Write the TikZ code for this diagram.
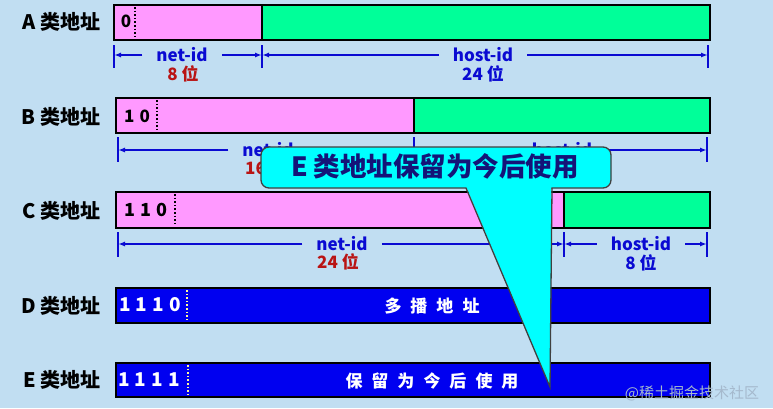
\documentclass[tikz,border=0pt]{standalone}
\usepackage{fontspec}
\setmainfont{Noto Sans CJK SC}
\usetikzlibrary{arrows.meta}
\definecolor{bgc}{RGB}{193,222,242}
\definecolor{pinkc}{RGB}{255,153,255}
\definecolor{greenc}{RGB}{0,255,153}
\definecolor{bluec}{RGB}{0,0,240}
\definecolor{arrc}{RGB}{10,10,210}
\definecolor{redc}{RGB}{185,20,20}
\definecolor{navyc}{RGB}{20,20,120}
\definecolor{cyanc}{RGB}{0,255,255}
\definecolor{wmc}{RGB}{165,185,205}
\newcommand{\fs}[1]{\fontsize{#1}{#1}\selectfont}
\begin{document}
\begin{tikzpicture}[x=1pt,y=-1pt,
  lab/.style={anchor=east, font=\bfseries\fs{20}},
  seg/.style={draw=black, line width=2.5pt},
  dotsep/.style={draw=black, dotted, line width=1.6pt},
  wdot/.style={draw=yellow!40!white, dotted, line width=1.6pt},
  dim/.style={draw=arrc, line width=1.8pt, -{Latex[length=7pt,width=5pt]}},
  tickm/.style={draw=arrc, line width=2.4pt},
  idtxt/.style={text=arrc, font=\bfseries\fs{17}, inner xsep=14pt, inner ysep=0pt},
  redtxt/.style={text=redc, font=\bfseries\fs{17}, inner sep=0pt},
  bluetxt/.style={text=arrc, font=\bfseries\fs{17}, inner sep=0pt},
  bitsb/.style={text=black, font=\bfseries\fs{#1}, inner sep=0pt},
  bitsw/.style={text=white, font=\bfseries\fs{#1}, inner sep=0pt},
  calltxt/.style={text=navyc, font=\bfseries\fs{26.5}, inner sep=0pt},
  callout/.style={fill=cyanc},
  callline/.style={draw=black!75, line width=1.3pt},
]
\fill[bgc] (0,0) rectangle (773,408);
\useasboundingbox (0,0) rectangle (773,408);

% labels
\node[lab] (la) at (104,22) {A 类地址};
\node[lab] (lb) at (104,117) {B 类地址};
\node[lab] (lc) at (104,211) {C 类地址};
\node[lab] (ld) at (104,306) {D 类地址};
\node[lab] (le) at (104,380) {E 类地址};

% Row A
\draw[seg, fill=pinkc] (114,5) rectangle (262,40);
\draw[seg, fill=greenc] (262,5) rectangle (710,40);
\draw[dotsep] (135,7) -- (135,38);
\node[bitsb=17] (abits) at (126,21) {0};
\coordinate (aL) at (114,55);
\coordinate (aM) at (262,55);
\coordinate (aR) at (708,55);
\node[idtxt] (anet) at (182,55) {net-id};
\node[idtxt] (ahost) at (483,55) {host-id};
\node[redtxt] (anb) at (183,74) {8 位};
\node[bluetxt] (ahb) at (483,74) {24 位};
\draw[dim] (anet.west) -- (aL);
\draw[dim] (anet.east) -- (aM);
\draw[dim] (ahost.west) -- (aM);
\draw[dim] (ahost.east) -- (aR);
\foreach \c in {aL,aM,aR} \draw[tickm] ([yshift=10pt]\c) -- ([yshift=-13pt]\c);

% Row B
\draw[seg, fill=pinkc] (116,98) rectangle (414,133);
\draw[seg, fill=greenc] (414,98) rectangle (710,133);
\draw[dotsep] (157,100) -- (157,131);
\node[bitsb=17] (bbits) at (137,116) {1\hspace{5pt}0};
\coordinate (bL) at (118,150);
\coordinate (bM) at (414,150);
\coordinate (bR) at (707,150);
\node[idtxt] (bnet) at (268,150) {net-id};
\node[idtxt] (bhost) at (562,150) {host-id};
\node[redtxt] (bnb) at (266,168) {16 位};
\node[bluetxt] (bhb) at (562,168) {16 位};
\draw[dim] (bnet.west) -- (bL);
\draw[dim] (bnet.east) -- (bM);
\draw[dim] (bhost.west) -- (bM);
\draw[dim] (bhost.east) -- (bR);
\foreach \c in {bL,bM,bR} \draw[tickm] ([yshift=13pt]\c) -- ([yshift=-12pt]\c);

% Row C
\draw[seg, fill=pinkc] (116,192) rectangle (564,228);
\draw[seg, fill=greenc] (564,192) rectangle (710,228);
\draw[dotsep] (175,194) -- (175,226);
\node[bitsb=18] (cbits) at (146,210) {1\hspace{5pt}1\hspace{5pt}0};
\coordinate (cL) at (118,244);
\coordinate (cM) at (564,244);
\coordinate (cR) at (707,244);
\node[idtxt] (cnet) at (342,244) {net-id};
\node[idtxt] (chost) at (641,244) {host-id};
\node[redtxt] (cnb) at (338,262) {24 位};
\node[bluetxt] (chb) at (641,263) {8 位};
\draw[dim] (cnet.west) -- (cL);
\draw[dim] (cnet.east) -- (cM);
\draw[dim] (chost.west) -- (cM);
\draw[dim] (chost.east) -- (cR);
\foreach \c in {cL,cM,cR} \draw[tickm] ([yshift=12pt]\c) -- ([yshift=-13pt]\c);

% Row D
\draw[seg, fill=bluec] (116,288) rectangle (710,323);
\draw[wdot] (187,290) -- (187,321);
\node[bitsw=19] (dbits) at (150,305) {1\hspace{5pt}1\hspace{5pt}1\hspace{5pt}0};
\node[bitsw=17] (dtxt) at (432,306) {多\hspace{9pt}播\hspace{9pt}地\hspace{9pt}址};

% Row E
\draw[seg, fill=bluec] (116,363) rectangle (710,397);
\draw[wdot] (188,365) -- (188,395);
\node[bitsw=19] (ebits) at (149,380) {1\hspace{5pt}1\hspace{5pt}1\hspace{5pt}1};
\node[bitsw=17] (etxt) at (432,381) {保\hspace{9pt}留\hspace{9pt}为\hspace{9pt}今\hspace{9pt}后\hspace{9pt}使\hspace{9pt}用};

% Callout
\fill[callout, rounded corners=8pt] (261,147) rectangle (611,188);
\draw[callline, rounded corners=8pt] (261,147) rectangle (611,188);
\fill[callout] (465.5,185) -- (551.5,185) -- (550,387) -- cycle;
\draw[callline] (466,188) -- (550,387) -- (552,188);
\node[calltxt] (ctxt) at (435,166) {E 类地址保留为今后使用};

% watermark
\node[text=wmc, font=\fs{15}, inner sep=0pt] (wm) at (692,393) {@稀土掘金技术社区};
\end{tikzpicture}
\end{document}
